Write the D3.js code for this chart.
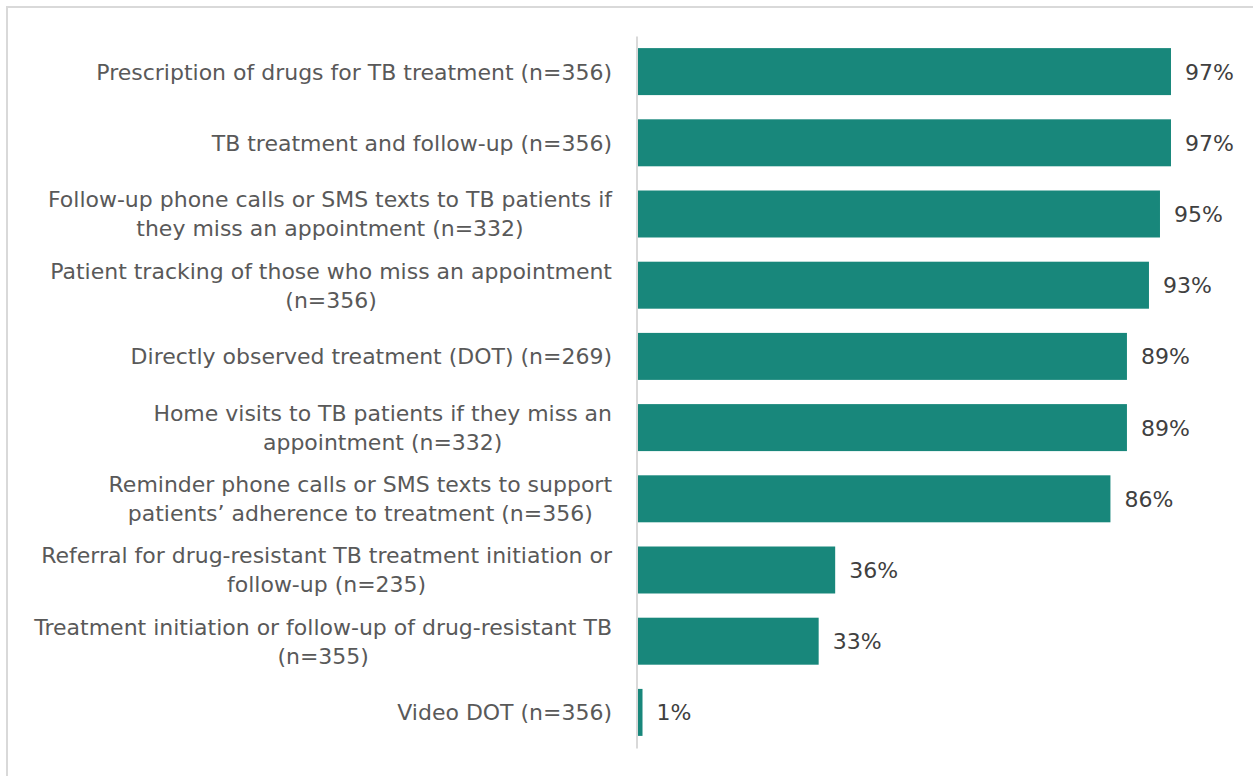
<!DOCTYPE html>
<html>
<head>
<meta charset="utf-8">
<script src="https://cdn.jsdelivr.net/npm/d3@7"></script>
<style>
  html, body { margin: 0; padding: 0; background: #ffffff; }
  svg { display: block; }
  text { font-family: "DejaVu Sans", "Noto Sans", sans-serif; }
</style>
</head>
<body>
<svg id="chart" width="1253" height="776"></svg>
<script>
// Services offered to TB patients (share of facilities)
const categories = [
  ["Prescription of drugs for TB treatment (n=356)"],
  ["TB treatment and follow-up (n=356)"],
  ["Follow-up phone calls or SMS texts to TB patients if", "they miss an appointment (n=332)"],
  ["Patient tracking of those who miss an appointment", "(n=356)"],
  ["Directly observed treatment (DOT) (n=269)"],
  ["Home visits to TB patients if they miss an", "appointment (n=332)"],
  ["Reminder phone calls or SMS texts to support", "patients\u2019 adherence to treatment (n=356)"],
  ["Referral for drug-resistant TB treatment initiation or", "follow-up (n=235)"],
  ["Treatment initiation or follow-up of drug-resistant TB", "(n=355)"],
  ["Video DOT (n=356)"]
];
const values = [97, 97, 95, 93, 89, 89, 86, 36, 33, 1];
const valueLabels = values.map(v => v + "%");

const svg = d3.select("#chart");
const W = 1253, H = 776;

// outer frame
svg.append("rect")
  .attr("x", 7).attr("y", 7)
  .attr("width", 1300).attr("height", 820)
  .attr("fill", "#ffffff")
  .attr("stroke", "#d9d9d9").attr("stroke-width", 2);

const x = d3.scaleLinear().domain([0, 100]).range([637, 1187.5]);
const y = d3.scaleBand()
  .domain(d3.range(categories.length))
  .range([36, 748])
  .paddingInner(0.34)
  .paddingOuter(0.17);

// bars
svg.append("g").selectAll("rect")
  .data(values)
  .join("rect")
  .attr("x", x(0))
  .attr("y", (d, i) => y(i))
  .attr("width", d => x(d) - x(0))
  .attr("height", y.bandwidth())
  .attr("fill", "#18877b");

// vertical category axis line
const axis = d3.axisLeft(y).tickSize(0).tickFormat("");
const axisG = svg.append("g")
  .attr("transform", `translate(${x(0) - 0.5},0)`)
  .call(axis);
axisG.select(".domain").attr("stroke", "#d9d9d9").attr("stroke-width", 2);

// fit the label font so the longest single-line label spans its measured width
const probe = svg.append("text").attr("font-size", 20).text(categories[0][0]);
const probeW = probe.node().getComputedTextLength();
probe.remove();
const labelSize = 20 * 516 / probeW;

const labelRight = 612;
const lineGap = 29;
const labelG = svg.append("g");
categories.forEach((lines, i) => {
  const cy = y(i) + y.bandwidth() / 2;
  const g = labelG.append("g");
  const texts = lines.map((ln, k) => g.append("text")
    .attr("font-size", labelSize)
    .attr("fill", "#595959")
    .attr("text-anchor", "middle")
    .attr("dy", "0.36em")
    .attr("y", cy + (k - (lines.length - 1) / 2) * lineGap)
    .text(ln));
  const maxW = d3.max(texts, t => t.node().getComputedTextLength());
  const cx = labelRight - maxW / 2;
  texts.forEach(t => t.attr("x", cx));
});

// value labels
svg.append("g").selectAll("text")
  .data(values)
  .join("text")
  .attr("x", d => x(d) + 14)
  .attr("y", (d, i) => y(i) + y.bandwidth() / 2)
  .attr("dy", "0.36em")
  .attr("font-size", labelSize)
  .attr("fill", "#404040")
  .text((d, i) => valueLabels[i]);
</script>
</body>
</html>
